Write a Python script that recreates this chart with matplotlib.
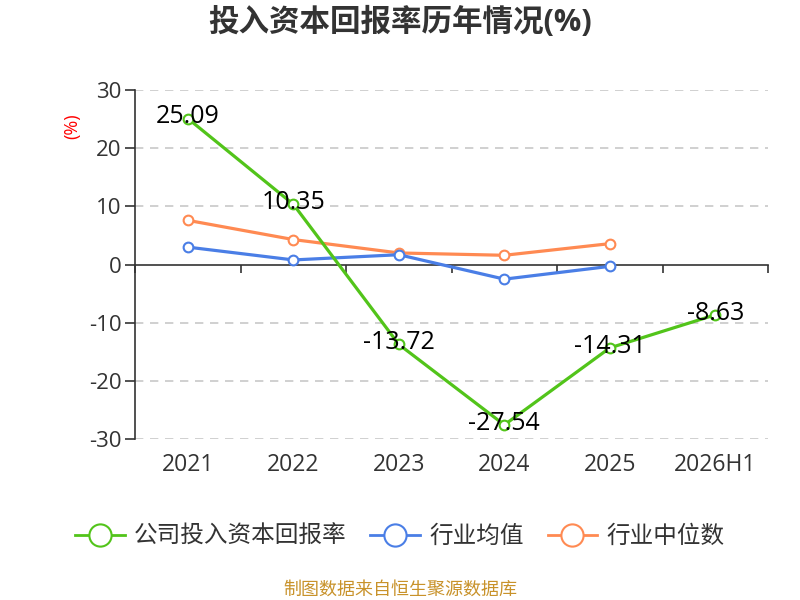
import matplotlib

matplotlib.use("Agg")
import matplotlib.pyplot as plt
from matplotlib.lines import Line2D
from matplotlib.transforms import blended_transform_factory

plt.rcParams["font.family"] = ["Open Sans", "Noto Sans CJK SC", "DejaVu Sans"]

years = ["2021", "2022", "2023", "2024", "2025", "2026H1"]
company = [25.09, 10.35, -13.72, -27.54, -14.31, -8.63]
industry_avg = [3.0, 0.8, 1.7, -2.5, -0.3]
industry_median = [7.6, 4.3, 2.0, 1.6, 3.6]

green = "#52c41a"
blue = "#4a7ee6"
orange = "#ff8a52"
text_color = "#333333"

fig = plt.figure(figsize=(8, 6), dpi=100)
ax = fig.add_axes([0.169, 0.268, 0.791, 0.582])

x_all = list(range(len(years)))
series = [
    (company, green, "公司投入资本回报率"),
    (industry_avg, blue, "行业均值"),
    (industry_median, orange, "行业中位数"),
]
for values, color, label in reversed(series):
    xs = x_all[: len(values)]
    ax.plot(xs, values, color=color, linewidth=2.3, marker="o", markersize=7,
            markerfacecolor="white", markeredgecolor=color, markeredgewidth=1.5,
            zorder=3, clip_on=False)

for i, v in enumerate(company):
    ax.text(i, v + 0.3, f"{v:.2f}", ha="center", va="center", fontsize=18,
            color="black", zorder=4)

ax.set_xlim(-0.5, len(years) - 0.5)
ax.set_ylim(-30, 30)
ax.set_yticks([-30, -20, -10, 0, 10, 20, 30])
ax.set_yticklabels(["-30", "-20", "-10", "0", "10", "20", "30"])
ax.tick_params(axis="y", labelsize=16, colors=text_color, length=7, width=1.2, pad=3)
for y in [-30, -20, -10, 10, 20, 30]:
    ax.axhline(y, color="#c8c8c8", linestyle=(0, (5, 4)), linewidth=1.2, zorder=1)

for side in ["top", "right"]:
    ax.spines[side].set_visible(False)
ax.spines["left"].set_color(text_color)
ax.spines["left"].set_linewidth(1.2)
ax.spines["bottom"].set_position(("data", 0))
ax.spines["bottom"].set_color(text_color)
ax.spines["bottom"].set_linewidth(1.2)
ax.set_xticks([i - 0.5 for i in range(len(years) + 1)])
ax.set_xticklabels([])
ax.tick_params(axis="x", length=6, width=1.2, colors=text_color)

trans = blended_transform_factory(ax.transData, ax.transAxes)
for i, name in enumerate(years):
    ax.text(i, -0.075, name, transform=trans, ha="center", va="center",
            fontsize=16.5, color=text_color)

fig.text(0.09, 0.79, "(%)", color="red", rotation=90, ha="center", va="center",
         fontsize=13)
fig.text(0.5, 0.962, "投入资本回报率历年情况(%)", ha="center", va="center",
         fontsize=22, fontweight="bold", color=text_color)

handles = [
    Line2D([0], [0], color=c, linewidth=2, marker="o", markersize=16,
           markerfacecolor="white", markeredgecolor=c, markeredgewidth=1.5)
    for _, c, _ in series
]
fig.legend(handles, [s[2] for s in series], loc="center", bbox_to_anchor=(0.5, 0.105),
           ncol=3, frameon=False, fontsize=17, handlelength=2.1, columnspacing=1.0,
           handletextpad=0.4, labelcolor=text_color)

fig.text(0.5, 0.017, "制图数据来自恒生聚源数据库", ha="center", va="center",
         fontsize=13, color="#c8922a")

fig.savefig("out.png")
plt.close(fig)
